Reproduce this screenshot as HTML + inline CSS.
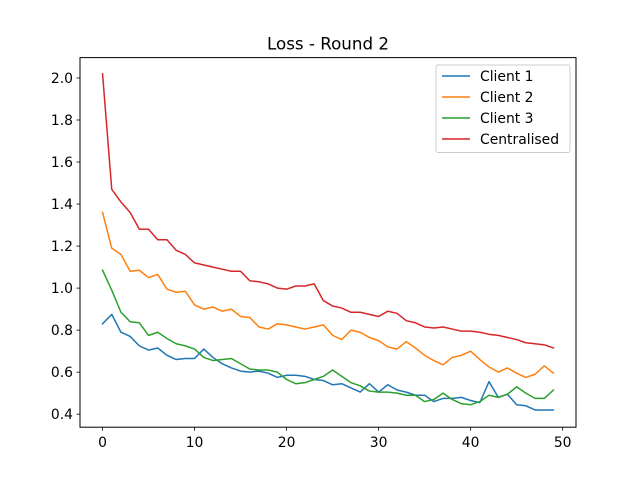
<!DOCTYPE html>
<html><head><meta charset="utf-8"><style>
html,body{margin:0;padding:0;background:#fff;}
svg{display:block;font-family:"DejaVu Sans","Liberation Sans",sans-serif;}
</style></head><body>
<svg id="chart" width="640" height="480">
<rect width="640" height="480" fill="#fff"/>
<text x="328" y="49.5" font-size="16.7" text-anchor="middle">Loss - Round 2</text>
<g id="plot"></g>
<rect x="80" y="57.6" width="496" height="369.6" fill="none" stroke="#000" stroke-width="1"/>
<g id="ticks"></g>
<g id="legend"></g>
</svg>
<script>
const rounds = Array.from({length:50},(_,i)=>i);
const client1 = [0.83,0.875,0.79,0.77,0.725,0.705,0.715,0.68,0.66,0.665,0.665,0.71,0.67,0.64,0.62,0.605,0.6,0.605,0.595,0.575,0.585,0.585,0.58,0.565,0.56,0.54,0.545,0.525,0.505,0.545,0.505,0.54,0.515,0.505,0.49,0.49,0.46,0.475,0.475,0.48,0.465,0.455,0.555,0.48,0.495,0.445,0.44,0.42,0.42,0.42];
const client2 = [1.36,1.19,1.16,1.08,1.085,1.05,1.065,0.995,0.98,0.985,0.92,0.90,0.91,0.89,0.9,0.865,0.86,0.815,0.805,0.83,0.825,0.815,0.805,0.815,0.825,0.775,0.755,0.8,0.79,0.765,0.75,0.72,0.71,0.745,0.715,0.68,0.655,0.635,0.67,0.68,0.7,0.66,0.625,0.6,0.62,0.595,0.575,0.59,0.63,0.595];
const client3 = [1.085,0.99,0.885,0.84,0.835,0.775,0.79,0.76,0.735,0.725,0.71,0.67,0.655,0.66,0.665,0.64,0.615,0.61,0.61,0.6,0.565,0.545,0.55,0.565,0.58,0.61,0.58,0.55,0.535,0.51,0.505,0.505,0.5,0.49,0.49,0.46,0.47,0.5,0.47,0.45,0.445,0.46,0.49,0.48,0.495,0.53,0.5,0.475,0.475,0.515];
const centralised = [2.02,1.47,1.41,1.36,1.28,1.28,1.23,1.23,1.18,1.16,1.12,1.11,1.10,1.09,1.08,1.08,1.035,1.03,1.02,1.0,0.995,1.01,1.01,1.02,0.94,0.915,0.905,0.885,0.885,0.875,0.865,0.89,0.88,0.845,0.835,0.815,0.81,0.815,0.805,0.795,0.795,0.79,0.78,0.775,0.765,0.755,0.74,0.735,0.73,0.715];
const seriesNames = ["Client 1","Client 2","Client 3","Centralised"];
const xTicks = [0,10,20,30,40,50];
const yTicks = [0.4,0.6,0.8,1.0,1.2,1.4,1.6,1.8,2.0];

const NS="http://www.w3.org/2000/svg";
const X0=80,X1=576,Y0=57.6,Y1=427.2;
const xmin=-2.45,xmax=51.45;
const ymin=0.338,ymax=2.097;
const sx=v=>X0+(v-xmin)/(xmax-xmin)*(X1-X0);
const sy=v=>Y1-(v-ymin)/(ymax-ymin)*(Y1-Y0);
function mk(tag,attrs,parent){const e=document.createElementNS(NS,tag);for(const k in attrs)e.setAttribute(k,attrs[k]);parent.appendChild(e);return e;}

const colors=["#1f77b4","#ff7f0e","#2ca02c","#d62728"];
const data=[client1,client2,client3,centralised];
const plot=document.getElementById('plot');
data.forEach((s,i)=>{
  const p=mk('polyline',{points:s.map((v,j)=>sx(rounds[j]).toFixed(2)+','+sy(v).toFixed(2)).join(' '),fill:'none',stroke:colors[i],'stroke-width':1.5,'stroke-linejoin':'round','stroke-linecap':'square'},plot);
  
  
});

const tk=document.getElementById('ticks');
xTicks.forEach(t=>{
  const x=sx(t);
  const l=mk('line',{x1:x,x2:x,y1:Y1,y2:Y1+3.5,stroke:'#000','stroke-width':0.8},tk);
  
  
  const tx=mk('text',{x:x,y:Y1+20,'font-size':13.9,'text-anchor':'middle'},tk);
  tx.textContent=t;
  
  
});
yTicks.forEach(t=>{
  const y=sy(t);
  const l=mk('line',{x1:X0-3.5,x2:X0,y1:y,y2:y,stroke:'#000','stroke-width':0.8},tk);
  
  
  const tx=mk('text',{x:X0-7,y:y+5,'font-size':13.9,'text-anchor':'end'},tk);
  tx.textContent=t.toFixed(1);
  
  
});

const lg=document.getElementById('legend');
const box=mk('rect',{x:436,y:65,width:134,height:87.5,rx:2,fill:'#fff','fill-opacity':0.8,stroke:'#ccc','stroke-width':1},lg);


seriesNames.forEach((n,i)=>{
  const y=76+i*21;
  const l=mk('line',{x1:442,x2:470,y1:y,y2:y,stroke:colors[i],'stroke-width':1.5},lg);
  
  
  const t=mk('text',{x:480,y:y+5,'font-size':13.9},lg);
  t.textContent=n;
  
  
});
</script>
</body></html>
